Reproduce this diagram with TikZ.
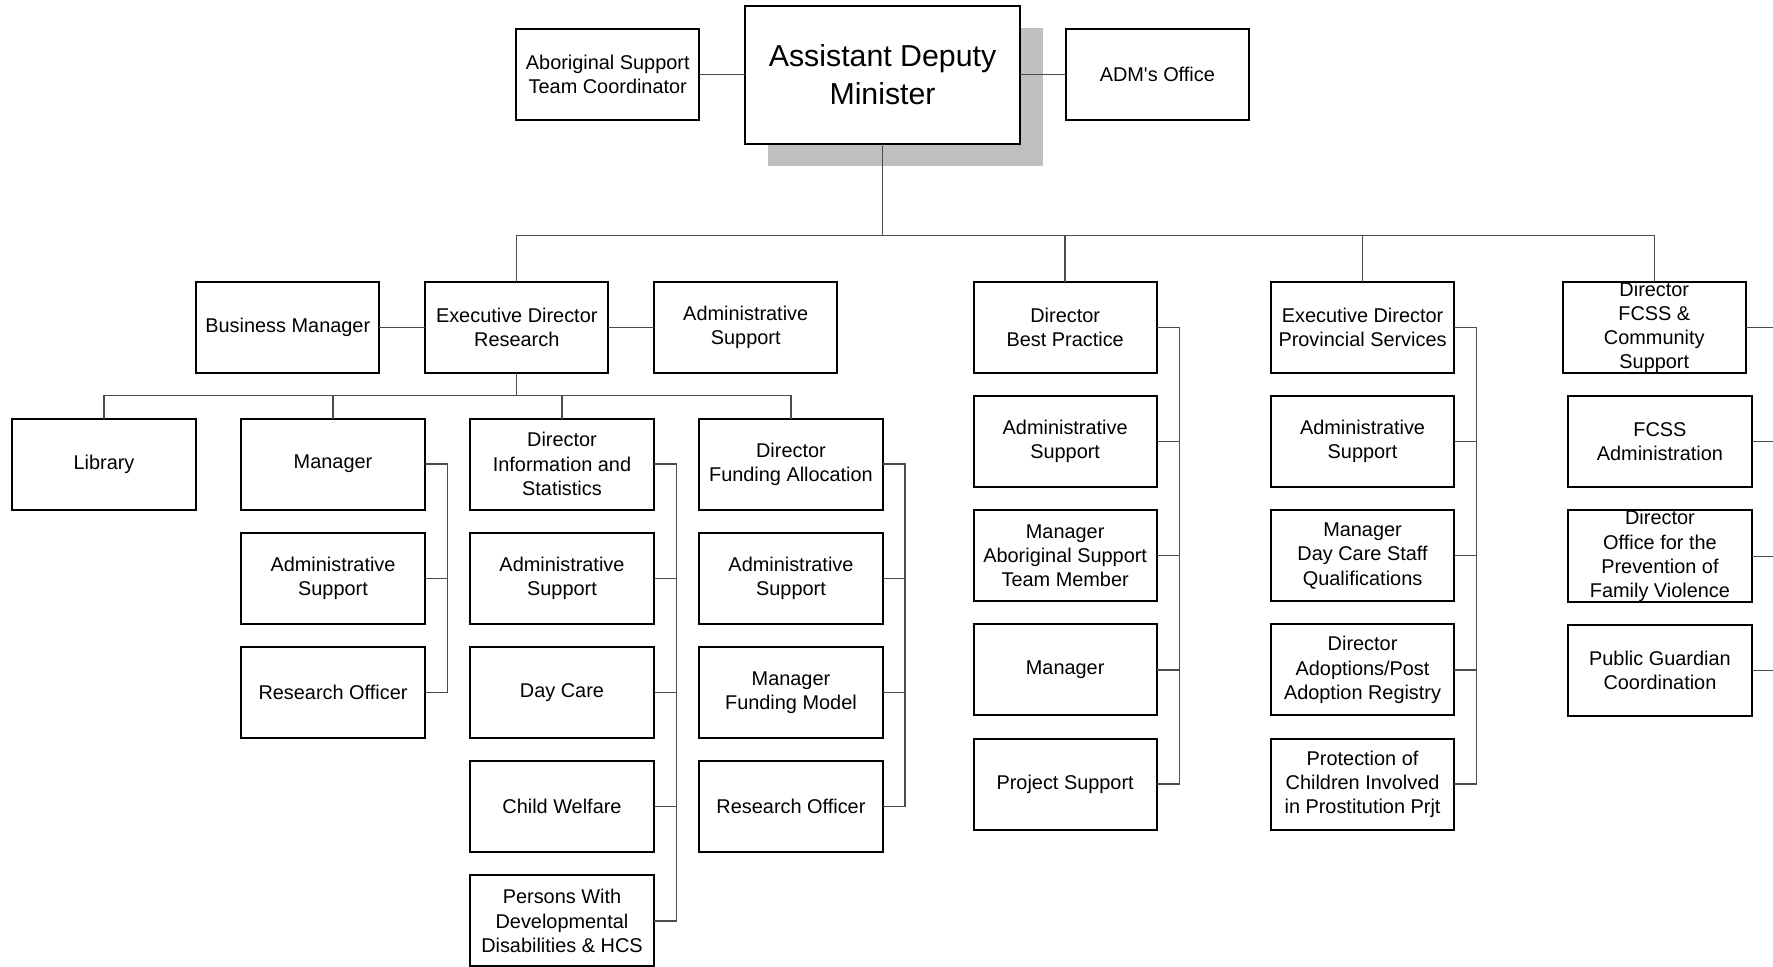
\documentclass[tikz,border=0pt]{standalone}
\usepackage{fontspec}
\setmainfont{Liberation Sans}
\usetikzlibrary{positioning,shadows}
\newcommand{\orgfont}{\fontsize{8.8}{10.75}\selectfont}
\tikzset{
    orgbox/.style={
        draw, rectangle, line width=0.9pt,
        minimum width=81pt, minimum height=40.25pt,
        inner sep=0pt, outer sep=0pt, align=center, text=black,
        font=\orgfont
    },
    link/.style={draw=black!70, line width=0.6pt}
}

\begin{document}
\begin{tikzpicture}[x=0.5pt, y=-0.5pt, node distance=10.25pt and 20.25pt]
    \useasboundingbox (0,0) rectangle (1568,855);

    % minister and office
    \node[orgbox, minimum width=121.5pt, minimum height=61pt,
        font=\fontsize{13.4}{16.5}\selectfont, fill=white,
        drop shadow={shadow xshift=10pt, shadow yshift=-10pt, fill=black!25, opacity=1}]
        (adm) at (780.5,66) {Assistant Deputy\\Minister};
    \node[orgbox, left=of adm]  (astc)      {Aboriginal Support\\Team Coordinator};
    \node[orgbox, right=of adm] (admoffice) {ADM\textquotesingle s Office};

    % second level
    \node[orgbox] (edres) at (457,289.5) {Executive Director\\Research};
    \node[orgbox, left=of edres]  (bizmgr)   {Business Manager};
    \node[orgbox, right=of edres] (resadmin) {Administrative\\Support};
    \node[orgbox] (dirbp)   at (942,289.5)  {Director\\Best Practice};
    \node[orgbox] (edprov)  at (1205,289.5) {Executive Director\\Provincial Services};
    \node[orgbox] (dirfcss) at (1463,289.5) {Director\\FCSS \&\\Community\\Support};

    % research units
    \node[orgbox] (library) at (92,410.5) {Library};
    \node[orgbox, right=of library] (resmgr)  {Manager};
    \node[orgbox, right=of resmgr]  (dirinfo) {Director\\Information and\\Statistics};
    \node[orgbox, right=of dirinfo] (dirfund) {Director\\Funding Allocation};

    \node[orgbox, below=of resmgr]    (resmgradm) {Administrative\\Support};
    \node[orgbox, below=of resmgradm] (resmgrro)  {Research Officer};

    \node[orgbox, below=of dirinfo]  (infoadm)  {Administrative\\Support};
    \node[orgbox, below=of infoadm]  (daycare)  {Day Care};
    \node[orgbox, below=of daycare]  (childwel) {Child Welfare};
    \node[orgbox, below=of childwel] (pdd)      {Persons With\\Developmental\\Disabilities \& HCS};

    \node[orgbox, below=of dirfund]   (fundadm)   {Administrative\\Support};
    \node[orgbox, below=of fundadm]   (fundmodel) {Manager\\Funding Model};
    \node[orgbox, below=of fundmodel] (fundro)    {Research Officer};

    % best practice
    \node[orgbox, below=of dirbp]   (bpadm)   {Administrative\\Support};
    \node[orgbox, below=of bpadm]   (bpmgrab) {Manager\\Aboriginal Support\\Team Member};
    \node[orgbox, below=of bpmgrab] (bpmgr)   {Manager};
    \node[orgbox, below=of bpmgr]   (bpproj)  {Project Support};

    % provincial services
    \node[orgbox, below=of edprov]      (provadm)     {Administrative\\Support};
    \node[orgbox, below=of provadm]     (provdaycare) {Manager\\Day Care Staff\\Qualifications};
    \node[orgbox, below=of provdaycare] (provadopt)   {Director\\Adoptions/Post\\Adoption Registry};
    \node[orgbox, below=of provadopt]   (provprot)    {Protection of\\Children Involved\\in Prostitution Prjt};

    % fcss
    \node[orgbox, below=of dirfcss, xshift=2.5pt] (fcssadm)  {FCSS\\Administration};
    \node[orgbox, below=of fcssadm]               (dirfv)    {Director\\Office for the\\Prevention of\\Family Violence};
    \node[orgbox, below=of dirfv]                 (pubguard) {Public Guardian\\Coordination};

    % buses
    \coordinate (topbus) at (780.5,208);
    \coordinate (resbus) at (457,350);

    \draw[link] (astc) -- (adm);
    \draw[link] (adm) -- (admoffice);
    \draw[link] (adm.south) -- (topbus);
    \draw[link] (edres.north) |- (topbus) -| (dirfcss.north);
    \draw[link] (dirbp.north) -- (dirbp.north |- topbus);
    \draw[link] (edprov.north) -- (edprov.north |- topbus);
    \draw[link] (bizmgr) -- (edres);
    \draw[link] (edres) -- (resadmin);

    \draw[link] (edres.south) -- (resbus);
    \draw[link] (library.north) |- (resbus) -| (dirfund.north);
    \draw[link] (resmgr.north) -- (resmgr.north |- resbus);
    \draw[link] (dirinfo.north) -- (dirinfo.north |- resbus);

    % side brackets
    \draw[link] (resmgr.east) -- ++(10pt,0) |- (resmgrro.east);
    \draw[link] (dirinfo.east) -- ++(10pt,0) |- (pdd.east);
    \draw[link] (dirfund.east) -- ++(10pt,0) |- (fundro.east);
    \draw[link] (dirbp.east) -- ++(10pt,0) |- (bpproj.east);
    \draw[link] (edprov.east) -- ++(10pt,0) |- (provprot.east);
    \foreach \n in {resmgradm, infoadm, daycare, childwel, fundadm, fundmodel,
                    bpadm, bpmgrab, bpmgr, provadm, provdaycare, provadopt}
        \draw[link] (\n.east) -- ++(10pt,0);
    \foreach \n in {dirfcss, fcssadm, dirfv, pubguard}
        \draw[link] (\n.east) -- ++(20pt,0);

\end{tikzpicture}
\end{document}
